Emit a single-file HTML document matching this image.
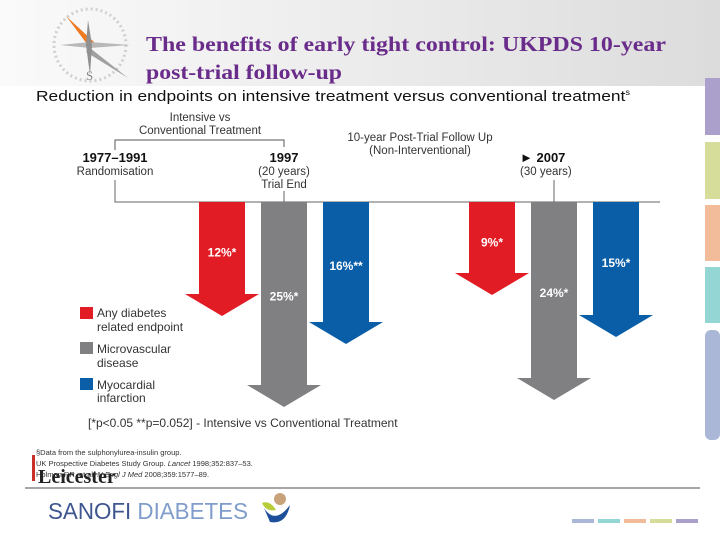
<!DOCTYPE html>
<html><head><meta charset="utf-8"><style>
body{margin:0;width:720px;height:540px;overflow:hidden;background:#fff;font-family:"Liberation Sans",sans-serif;}
svg{display:block}
</style></head><body>
<svg width="720" height="540" viewBox="0 0 720 540">
<defs><linearGradient id="hdr" x1="0" y1="0" x2="1" y2="0"><stop offset="0" stop-color="#fafafa"/><stop offset="0.6" stop-color="#e9e9e9"/><stop offset="1" stop-color="#dcdcdc"/></linearGradient></defs>
<rect x="0" y="0" width="720" height="86" fill="url(#hdr)"/>
<g>
<circle cx="90" cy="45" r="36" fill="none" stroke="#d0d0d0" stroke-width="3" stroke-dasharray="2 3"/>
<polygon points="90,48 66,16 94,42" fill="#ee7a22"/>
<polygon points="90,48 128,78 86,52" fill="#a0a0a0"/>
<polygon points="60,45 90,42 130,45 90,48" fill="#b8b8b8"/>
<polygon points="88,20 92,45 90,75 86,45" fill="#909090"/>
<text x="86" y="80" font-family="Liberation Serif" font-size="13" fill="#888">S</text>
</g>
<text x="146" y="51" font-family="Liberation Serif" font-weight="bold" font-size="21" fill="#6a2c8a" textLength="520" lengthAdjust="spacingAndGlyphs">The benefits of early tight control: UKPDS 10-year</text>
<text x="146" y="79" font-family="Liberation Serif" font-weight="bold" font-size="21" fill="#6a2c8a" textLength="196" lengthAdjust="spacingAndGlyphs">post-trial follow-up</text>
<g>
<rect x="705" y="78" width="15" height="57" fill="#ab9fcb"/>
<rect x="705" y="142" width="15" height="57" fill="#d6dc9a"/>
<rect x="705" y="205" width="15" height="56" fill="#f2bc9a"/>
<rect x="705" y="267" width="15" height="56" fill="#94d6d4"/>
<rect x="705" y="330" width="15" height="110" rx="6" fill="#aab7d6"/>
</g>
<text x="36" y="101" font-size="15" fill="#111" textLength="594" lengthAdjust="spacingAndGlyphs">Reduction in endpoints on intensive treatment versus conventional treatment<tspan font-size="8" dy="-6">s</tspan></text>
<g font-size="11.5" fill="#333">
<text x="200" y="121" text-anchor="middle">Intensive vs</text>
<text x="200" y="134" text-anchor="middle">Conventional Treatment</text>
<path d="M115 150 V140 H284 V147" fill="none" stroke="#555"/>
<text x="420" y="141" text-anchor="middle">10-year Post-Trial Follow Up</text>
<text x="420" y="154" text-anchor="middle">(Non-Interventional)</text>
<text x="115" y="162" text-anchor="middle" font-weight="bold" font-size="13" fill="#111">1977–1991</text>
<text x="115" y="175" text-anchor="middle">Randomisation</text>
<text x="284" y="162" text-anchor="middle" font-weight="bold" font-size="13" fill="#111">1997</text>
<text x="284" y="175" text-anchor="middle">(20 years)</text>
<text x="284" y="188" text-anchor="middle">Trial End</text>
<text x="520" y="162" font-weight="bold" font-size="13" fill="#111">► 2007</text>
<text x="520" y="175">(30 years)</text>
<path d="M115 180 V202 H660 M284 191 V202 M554 180 V202" fill="none" stroke="#666"/>
</g>
<g id="arrows"></g>
<g font-size="12" fill="#333">
<rect x="80" y="307" width="13" height="12" fill="#e21c25"/>
<text x="97" y="317">Any diabetes</text><text x="97" y="331">related endpoint</text>
<rect x="80" y="342" width="13" height="12" fill="#808083"/>
<text x="97" y="353">Microvascular</text><text x="97" y="367">disease</text>
<rect x="80" y="378" width="13" height="12" fill="#0a5ea8"/>
<text x="97" y="389">Myocardial</text><text x="97" y="402">infarction</text>
</g>
<text x="88" y="427" font-size="12" fill="#333">[*p&lt;0.05  **p=0.052] - Intensive vs Conventional Treatment</text>
<g font-size="7.5" fill="#333">
<text x="36" y="455">§Data from the sulphonylurea-insulin group.</text>
<text x="36" y="466">UK Prospective Diabetes Study Group. <tspan font-style="italic">Lancet</tspan> 1998;352:837–53.</text>
<text x="36" y="477">Holman RR, et al. <tspan font-style="italic">N Engl J Med</tspan> 2008;359:1577–89.</text>
</g>
<rect x="32" y="455" width="3" height="26" fill="#c8322a"/>
<text x="38" y="483" font-family="Liberation Serif" font-weight="bold" font-size="20" fill="#222">Leicester</text>
<line x1="25" y1="488" x2="700" y2="488" stroke="#888" stroke-width="1.5"/>
<text x="48" y="519" font-size="23" fill="#3e5590" textLength="200" lengthAdjust="spacingAndGlyphs">SANOFI <tspan fill="#7f9ccb">DIABETES</tspan></text>
<g>
<path d="M264 508 Q275 525 290 505 Q286 525 270 522 Z" fill="#1e4f9a"/>
<path d="M262 503 Q270 500 276 510 Q266 512 262 503 Z" fill="#b9cd3a"/>
<circle cx="280" cy="499" r="6" fill="#c7a27a"/>
</g>
<g>
<rect x="572" y="519" width="22" height="4" fill="#aab7d6"/>
<rect x="598" y="519" width="22" height="4" fill="#94d6d4"/>
<rect x="624" y="519" width="22" height="4" fill="#f2bc9a"/>
<rect x="650" y="519" width="22" height="4" fill="#d6dc9a"/>
<rect x="676" y="519" width="22" height="4" fill="#ab9fcb"/>
</g>
</svg>
<script>
const groups = ["1997", "2007"];
const endpoints = ["Any diabetes related endpoint", "Microvascular disease", "Myocardial infarction"];
const values1997 = [12, 25, 16];
const values2007 = [9, 24, 15];
const labels1997 = ["12%*", "25%*", "16%**"];
const labels2007 = ["9%*", "24%*", "15%*"];
const colors = ["#e21c25", "#808083", "#0a5ea8"];
const NS = "http://www.w3.org/2000/svg";
const g = document.getElementById("arrows");
const top0 = 202;
function yLen(v){ return 30 + 7.0 * v; }
function xCenter(gi, ei){ return [222, 492][gi] + ei * 62; }
[values1997, values2007].forEach((vals, gi) => {
  const labs = gi === 0 ? labels1997 : labels2007;
  vals.forEach((v, ei) => {
    const cx = xCenter(gi, ei), tip = top0 + yLen(v), hs = tip - 22;
    const p = document.createElementNS(NS, "polygon");
    p.setAttribute("points", `${cx-23},${top0} ${cx+23},${top0} ${cx+23},${hs} ${cx+37},${hs} ${cx},${tip} ${cx-37},${hs} ${cx-23},${hs}`);
    p.setAttribute("fill", colors[ei]);
    
    
    g.appendChild(p);
    const t = document.createElementNS(NS, "text");
    t.setAttribute("x", cx);
    t.setAttribute("y", top0 + yLen(v) * 0.48);
    t.setAttribute("text-anchor", "middle");
    t.setAttribute("font-size", "12");
    t.setAttribute("font-weight", "bold");
    t.setAttribute("fill", "#fff");
    t.textContent = labs[ei];
    
    
    g.appendChild(t);
  });
});
</script>
</body></html>
